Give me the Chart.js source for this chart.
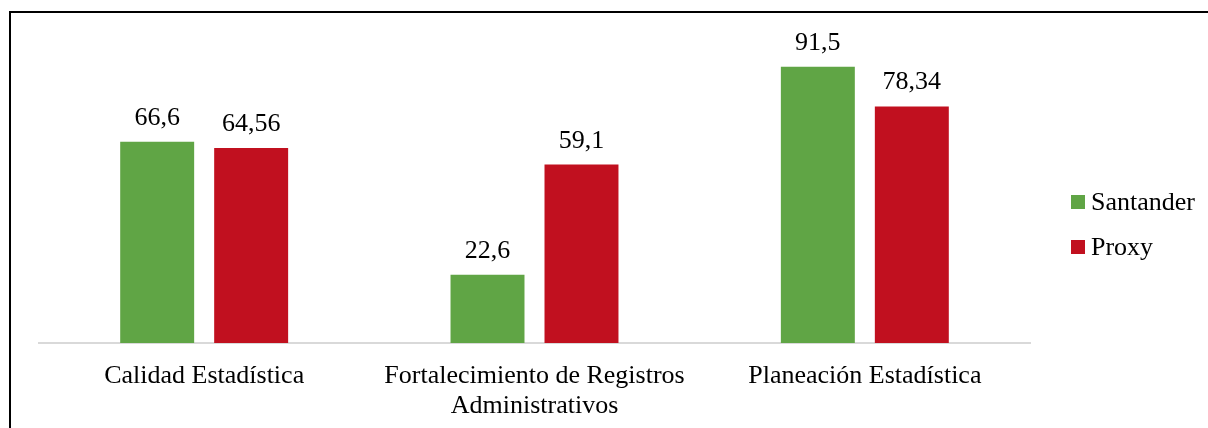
<!DOCTYPE html>
<html>
<head>
<meta charset="utf-8">
<script src="https://cdn.jsdelivr.net/npm/chart.js@4.4.1/dist/chart.umd.min.js"></script>
<style>
  html, body { margin: 0; padding: 0; background: #fff; overflow: hidden; }
  body { width: 1208px; height: 428px; position: relative; font-family: "Liberation Serif", "Times New Roman", serif; }
  #frame { position: absolute; left: 9px; top: 11px; width: 1300px; height: 500px; border: 2px solid #000; box-sizing: border-box; }
  #wrap { position: absolute; left: 0; top: 0; width: 1208px; height: 428px; }
  .legend-item { position: absolute; left: 1071px; height: 30px; display: flex; align-items: center; font-size: 26px; color: #000; }
  .legend-item span.box { display: inline-block; width: 14px; height: 14px; margin-right: 6px; }
</style>
</head>
<body>
<div id="frame"></div>
<div id="wrap"><canvas id="chart" width="1208" height="428"></canvas></div>
<div class="legend-item" style="top:187px"><span class="box" style="background:#60a545"></span>Santander</div>
<div class="legend-item" style="top:232px"><span class="box" style="background:#c1101f"></span>Proxy</div>
<script>
// Categorías y valores de cada serie
const categories = [
  'Calidad Estadística',
  ['Fortalecimiento de Registros', 'Administrativos'],
  'Planeación Estadística'
];
const santander = [66.6, 22.6, 91.5];
const proxy = [64.56, 59.1, 78.34];
const seriesNames = ['Santander', 'Proxy'];
const seriesColors = ['#60a545', '#c1101f'];

const FONT = '"Liberation Serif", "Times New Roman", serif';

// Etiquetas de valor sobre cada barra, con coma decimal
const valueLabels = {
  id: 'valueLabels',
  afterDatasetsDraw(chart) {
    const ctx = chart.ctx;
    ctx.save();
    ctx.font = '26px ' + FONT;
    ctx.fillStyle = '#000';
    ctx.textAlign = 'center';
    ctx.textBaseline = 'alphabetic';
    chart.data.datasets.forEach((ds, i) => {
      chart.getDatasetMeta(i).data.forEach((bar, j) => {
        const txt = String(ds.data[j]).replace('.', ',');
        ctx.fillText(txt, bar.x, bar.y - 17);
      });
    });
    ctx.restore();
  }
};

new Chart(document.getElementById('chart'), {
  type: 'bar',
  data: {
    labels: categories,
    datasets: [
      { label: seriesNames[0], data: santander, backgroundColor: seriesColors[0] },
      { label: seriesNames[1], data: proxy, backgroundColor: seriesColors[1] }
    ]
  },
  options: {
    responsive: false,
    animation: false,
    devicePixelRatio: 1,
    categoryPercentage: 0.569,
    barPercentage: 0.787,
    layout: { padding: { left: 39, right: 178, top: 41, bottom: 0 } },
    scales: {
      x: {
        grid: { display: false },
        border: { display: true, color: '#d9d9d9', width: 2 },
        ticks: {
          color: '#000',
          font: { family: FONT, size: 26, lineHeight: 1.15 },
          padding: 10,
          maxRotation: 0,
          autoSkip: false
        },
        afterFit: s => { s.height = 85; }
      },
      y: {
        display: false,
        min: 0,
        max: 100
      }
    },
    plugins: {
      legend: { display: false },
      tooltip: { enabled: false }
    }
  },
  plugins: [valueLabels]
});
</script>
</body>
</html>
